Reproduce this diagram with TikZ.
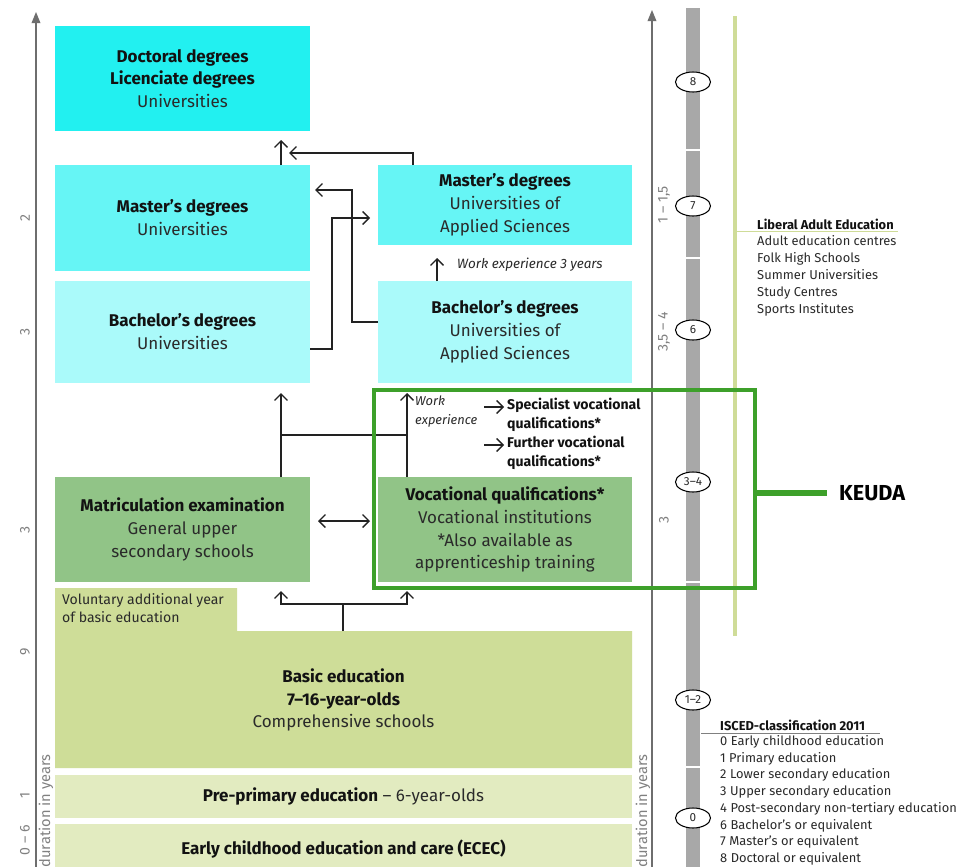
\documentclass[tikz,border=0pt]{standalone}
\usepackage{fontspec}
\setmainfont{Fira Sans}
\usetikzlibrary{arrows.meta,shapes.geometric}
\definecolor{cDoc}{HTML}{22F0F0}
\definecolor{cMas}{HTML}{66F5F5}
\definecolor{cBac}{HTML}{AAFAFA}
\definecolor{cGrn}{HTML}{91C487}
\definecolor{cBas}{HTML}{CEDD98}
\definecolor{cPre}{HTML}{E2EBC0}
\definecolor{cFrame}{HTML}{3DA02A}
\definecolor{cLine}{HTML}{CFDC98}
\definecolor{cBar}{HTML}{A8A8A8}
\definecolor{cAxis}{HTML}{6E6E6E}
\definecolor{cTxt}{HTML}{121212}
\definecolor{cSub}{HTML}{2A2A2A}
\definecolor{cNum}{HTML}{808080}
\definecolor{cArr}{HTML}{222222}
\newcommand\pxu{0.03cm}
\newcommand\fsz[2]{\fontsize{#1}{#2}\selectfont}
\begin{document}
\begin{tikzpicture}[x=0.03cm,y=-0.03cm,
  box/.style={inner sep=0pt, outer sep=0pt, align=center, text=cTxt, font=\fsz{14.5}{19.5}},
  conn/.style={draw=cArr, line width=1.15pt},
  arr/.style={conn, -{Straight Barb[length=5.5pt,width=11pt]}},
  dblarr/.style={conn, {Straight Barb[length=5.5pt,width=11pt]}-{Straight Barb[length=5.5pt,width=11pt]}},
  axisarr/.style={draw=cAxis, line width=0.9pt, -{Triangle[length=9.5pt,width=7.5pt]}},
  durnum/.style={text=cNum, font=\fsz{12}{13}, rotate=90, inner sep=0pt},
  isc/.style={ellipse, draw=black, line width=0.9pt, fill=white, minimum width=35*\pxu, minimum height=20*\pxu, inner sep=0pt, font=\fsz{10}{11}, text=cSub},
  listtxt/.style={align=left, inner sep=0pt, text=cSub, font=\fsz{11}{14.5}},
]
\useasboundingbox (0,0) rectangle (967,867);
\fill[white] (0,0) rectangle (967,867);

% ---------- boxes ----------
\node[box, fill=cDoc, minimum width=255*\pxu, minimum height=105*\pxu] (doc) at (182.5,78.5)
  {\textbf{Doctoral degrees}\\\textbf{Licenciate degrees}\\\textcolor{cSub}{Universities}};
\node[box, fill=cMas, minimum width=255*\pxu, minimum height=106*\pxu] (mu) at (182.5,218)
  {\textbf{Master’s degrees}\\\textcolor{cSub}{Universities}};
\node[box, fill=cBac, minimum width=255*\pxu, minimum height=102*\pxu] (bu) at (182.5,332)
  {\textbf{Bachelor’s degrees}\\\textcolor{cSub}{Universities}};
\node[box, fill=cMas, minimum width=254*\pxu, minimum height=80*\pxu] (mas) at (505,205)
  {\textbf{Master’s degrees}\\\textcolor{cSub}{Universities of}\\\textcolor{cSub}{Applied Sciences}};
\node[box, fill=cBac, minimum width=254*\pxu, minimum height=102*\pxu] (bas) at (505,332)
  {\textbf{Bachelor’s degrees}\\\textcolor{cSub}{Universities of}\\\textcolor{cSub}{Applied Sciences}};
\node[box, fill=cGrn, minimum width=255*\pxu, minimum height=105*\pxu] (mat) at (182.5,529.5)
  {\textbf{Matriculation examination}\\\textcolor{cSub}{General upper}\\\textcolor{cSub}{secondary schools}};
\node[box, fill=cGrn, minimum width=254*\pxu, minimum height=105*\pxu] (voc) at (505,529.5)
  {\textbf{Vocational qualifications*}\\\textcolor{cSub}{Vocational institutions}\\\textcolor{cSub}{*Also available as}\\\textcolor{cSub}{apprenticeship training}};

\fill[cBas] (55,588) -- (237,588) -- (237,631) -- (632,631) -- (632,768) -- (55,768) -- cycle;
\node[listtxt, anchor=north west, font=\fsz{12}{15.3}] (vol) at (62,593)
  {Voluntary additional year\\of basic education};
\node[box] (basic) at (343.5,700)
  {\textbf{Basic education}\\\textbf{7–16-year-olds}\\\textcolor{cSub}{Comprehensive schools}};
\coordinate (basN) at (343,631);

\node[box, fill=cPre, minimum width=577*\pxu, minimum height=43*\pxu] (pre) at (343.5,796.5)
  {\textbf{Pre-primary education} \textcolor{cSub}{– 6-year-olds}};
\node[box, fill=cPre, minimum width=577*\pxu, minimum height=50*\pxu] (ecec) at (343.5,849)
  {\textbf{Early childhood education and care (ECEC)}};

% ---------- connector helper coordinates ----------
\coordinate (xL) at (281,0);
\coordinate (xR) at (407,0);
\coordinate (xM) at (413,0);
\coordinate (xW) at (437,0);
\coordinate (jTop) at (289,153);
\coordinate (k1) at (352,190);
\coordinate (k2) at (332,218);
\coordinate (r322) at (0,322);
\coordinate (r349) at (0,349);
\coordinate (r520) at (0,521);
\coordinate (h1) at (281,435);
\coordinate (h2) at (407,435);
\coordinate (bj) at (343,604);

% ---------- connectors ----------
\draw[arr, shorten >=9*\pxu] (mu.north -| xL) -- (doc.south -| xL);
\draw[arr] (mas.north -| xM) |- (jTop);
\draw[arr, shorten >=5*\pxu] (bas.west |- r322) -| (k1) -- (mu.east |- k1);
\draw[arr, shorten >=8*\pxu] (bu.east |- r349) -| (k2) -- (mas.west |- k2);
\draw[arr, shorten >=13*\pxu] (bas.north -| xW) -- (mas.south -| xW);
\node[anchor=west, inner sep=0pt, text=cSub, font=\itshape\fsz{11.5}{13}] (wexp3) at (457,265) {Work experience 3 years};

\draw[arr, shorten >=10*\pxu] (mat.north -| xL) -- (bu.south -| xL);
\draw[arr, shorten >=10*\pxu] (voc.north -| xR) -- (bas.south -| xR);
\draw[conn] (h1) -- (h2);
\draw[dblarr, shorten >=8*\pxu, shorten <=8*\pxu] (mat.east |- r520) -- (voc.west |- r520);

\draw[conn] (basN) -- (bj);
\draw[arr, shorten >=9*\pxu] (bj) -| (mat.south -| xL);
\draw[arr, shorten >=9*\pxu] (bj) -| (voc.south -| xR);

% work experience -> further qualifications
\node[anchor=north west, inner sep=0pt, align=left, text=cSub, font=\itshape\fsz{11}{16}] (wexp) at (415,396) {Work\\experience};
\node[anchor=north west, inner sep=0pt, align=left, text=cTxt, font=\bfseries\fsz{12}{16.5}] (spec) at (507,398) {Specialist vocational\\qualifications*};
\node[anchor=north west, inner sep=0pt, align=left, text=cTxt, font=\bfseries\fsz{12}{16.5}] (furth) at (507,436) {Further vocational\\qualifications*};
\coordinate (wa1) at (484,407);
\coordinate (wa2) at (484,445);
\draw[arr, shorten >=3*\pxu] (wa1) -- (wa1 -| spec.west);
\draw[arr, shorten >=3*\pxu] (wa2) -- (wa2 -| furth.west);

% ---------- axes ----------
\coordinate (aLb) at (36,870);
\coordinate (aLt) at (36,12);
\coordinate (aRb) at (652,870);
\coordinate (aRt) at (652,10);
\draw[axisarr] (aLb) -- (aLt);
\draw[axisarr] (aRb) -- (aRt);

\node[durnum] (n1) at (25,218) {2};
\node[durnum] (n2) at (25,332) {3};
\node[durnum] (n3) at (25,530) {3};
\node[durnum] (n4) at (25,652) {9};
\node[durnum] (n5) at (25,795) {1};
\node[durnum] (n6) at (25,840) {0 – 6};
\node[durnum, font=\fsz{12.5}{13}] (durL) at (46,811) {duration in years};

\node[durnum] (r1) at (664,205) {1 – 1,5};
\node[durnum] (r2) at (664,332) {3,5 – 4};
\node[durnum] (r3) at (664,520) {3};
\node[durnum, font=\fsz{12.5}{13}] (durR) at (643,811) {duration in years};

% ---------- ISCED bar ----------
\fill[cBar] (686,8) rectangle (700,870);
\foreach \yy in {150,258,582,767} { \fill[white] (685,\yy-1) rectangle (701,\yy+1); }
\node[isc] (i8) at (693,82) {8};
\node[isc] (i7) at (693,206) {7};
\node[isc] (i6) at (693,330) {6};
\node[isc] (i34) at (693,482) {3–4};
\node[isc] (i12) at (693,700) {1–2};
\node[isc] (i0) at (693,818) {0};

% ---------- liberal adult education ----------
\draw[cLine, line width=3.6pt] (735,16) -- (735,636);
\draw[cLine, line width=0.8pt] (737,231) -- (898,231);
\node[anchor=base west, inner sep=0pt, text=cTxt, font=\bfseries\fsz{11}{13}] (lae) at (757,229) {Liberal Adult Education};
\node[listtxt, anchor=north west] (laelist) at (757,235)
  {Adult education centres\\Folk High Schools\\Summer Universities\\Study Centres\\Sports Institutes};

% ---------- ISCED legend ----------
\draw[cNum, line width=0.8pt] (701,733) -- (880,733);
\node[anchor=base west, inner sep=0pt, text=cTxt, font=\bfseries\fsz{11}{13}] (isch) at (720,730) {ISCED-classification 2011};
\node[listtxt, anchor=north west, font=\fsz{11}{14.3}] (isclist) at (720,735)
  {0 Early childhood education\\1 Primary education\\2 Lower secondary education\\3 Upper secondary education\\4 Post-secondary non-tertiary education\\6 Bachelor’s or equivalent\\7 Master’s or equivalent\\8 Doctoral or equivalent};

% ---------- KEUDA frame ----------
\node[draw=cFrame, line width=3.8pt, minimum width=381*\pxu, minimum height=198*\pxu, inner sep=0pt] (frame) at (564.5,489) {};
\node[anchor=west, inner sep=0pt, text=black, font=\bfseries\fsz{18.5}{20}] (keuda) at (839,493) {KEUDA};
\draw[cFrame, line width=4.3pt, shorten >=12*\pxu] (frame.east |- keuda.west) -- (keuda.west);
\end{tikzpicture}
\end{document}
